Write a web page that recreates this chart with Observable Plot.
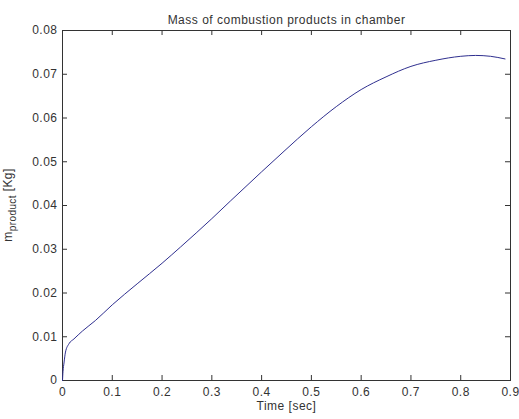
<!DOCTYPE html>
<html>
<head>
<meta charset="utf-8">
<script src="https://cdn.jsdelivr.net/npm/d3@7"></script>
<script src="https://cdn.jsdelivr.net/npm/@observablehq/plot@0.6"></script>
<style>
  html, body { margin: 0; padding: 0; background: #fff; }
  #chart svg { display: block; }
</style>
</head>
<body>
<div id="chart"></div>
<script>
const titleText = "Mass of combustion products in chamber";
const xLabelText = "Time [sec]";
const yLabelMain = "m";
const yLabelSub = "product";
const yLabelUnit = " [Kg]";

const xTicks = [0, 0.1, 0.2, 0.3, 0.4, 0.5, 0.6, 0.7, 0.8, 0.9];
const xTickLabels = ["0", "0.1", "0.2", "0.3", "0.4", "0.5", "0.6", "0.7", "0.8", "0.9"];
const yTicks = [0, 0.01, 0.02, 0.03, 0.04, 0.05, 0.06, 0.07, 0.08];
const yTickLabels = ["0", "0.01", "0.02", "0.03", "0.04", "0.05", "0.06", "0.07", "0.08"];

const time = [0, 0.001, 0.003, 0.006, 0.013, 0.023, 0.04, 0.066, 0.1, 0.15, 0.2, 0.237, 0.3, 0.338, 0.4, 0.445, 0.5, 0.55, 0.6, 0.65, 0.7, 0.75, 0.8, 0.83, 0.86, 0.889];
const mass = [0, 0.002, 0.0040, 0.0065, 0.0084, 0.0095, 0.0113, 0.0137, 0.0173, 0.0221, 0.0268, 0.0305, 0.0370, 0.0411, 0.0477, 0.0524, 0.0580, 0.0626, 0.0665, 0.0694, 0.0718, 0.0732, 0.0741, 0.0743, 0.0741, 0.0735];

const data = time.map((t, i) => ({t, m: mass[i]}));
const font = "'Liberation Sans', Arial, Helvetica, sans-serif";
const ink = "#333";

const xFmt = d => xTickLabels[xTicks.indexOf(d)];
const yFmt = d => yTickLabels[yTicks.indexOf(d)];

const plot = Plot.plot({
  width: 519,
  height: 419,
  marginLeft: 62,
  marginRight: 9,
  marginTop: 30,
  marginBottom: 39,
  style: {fontFamily: font, fontSize: "12px", color: ink, background: "#fff"},
  x: {domain: [0, 0.9]},
  y: {domain: [0, 0.08]},
  marks: [
    Plot.frame({stroke: ink, strokeWidth: 1}),
    // inward tick marks on all four sides (MATLAB box style)
    Plot.ruleX(xTicks, {x: d => d, insetTop: 345, stroke: ink}),
    Plot.ruleX(xTicks, {x: d => d, insetBottom: 345, stroke: ink}),
    Plot.ruleY(yTicks, {y: d => d, insetRight: 443, stroke: ink}),
    Plot.ruleY(yTicks, {y: d => d, insetLeft: 443, stroke: ink}),
    Plot.axisX({ticks: xTicks, tickSize: 0, tickPadding: 7, tickFormat: xFmt, label: null, fill: ink, fontSize: 12}),
    Plot.axisY({ticks: yTicks, tickSize: 0, tickPadding: 5, tickFormat: yFmt, label: null, fill: ink, fontSize: 12}),
    Plot.line(data, {x: "t", y: "m", stroke: "#2f2f8f", strokeWidth: 1, curve: "monotone-x"}),
    Plot.text([titleText], {frameAnchor: "top", dy: -15.5, fill: ink, fontSize: 12}),
    Plot.text([xLabelText], {frameAnchor: "bottom", dy: 29, fill: ink, fontSize: 12})
  ]
});

document.getElementById("chart").appendChild(plot);

const svg = d3.select(plot);
svg.selectAll("text").style("letter-spacing", "0.5px");

const yl = svg.append("text")
  .attr("transform", "translate(12,205) rotate(-90)")
  .attr("text-anchor", "middle")
  .attr("fill", ink)
  .style("font-family", font)
  .style("font-size", "12px")
  .style("letter-spacing", "0.4px");
yl.append("tspan").text(yLabelMain);
yl.append("tspan").attr("dy", 4).style("font-size", "10px").text(yLabelSub);
yl.append("tspan").attr("dy", -4).text(yLabelUnit);
</script>
</body>
</html>
